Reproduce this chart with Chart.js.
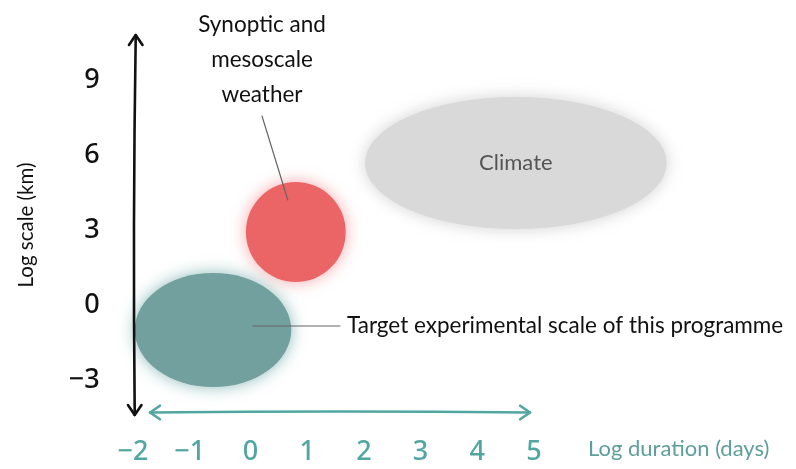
<!DOCTYPE html>
<html>
<head>
<meta charset="utf-8">
<script src="https://cdn.jsdelivr.net/npm/chart.js@4.4.1/dist/chart.umd.min.js"></script>
<style>
    html, body { margin: 0; padding: 0; background: #ffffff; }
    #wrap { width: 796px; height: 469px; }
</style>
</head>
<body>
<div id="wrap"><canvas id="scaleChart"></canvas></div>
<script>
// ---- data ----
const xTicks = [-2, -1, 0, 1, 2, 3, 4, 5];
const yTicks = [-3, 0, 3, 6, 9];

const regionNames = ['Target experimental scale of this programme', 'Synoptic and mesoscale weather', 'Climate'];
const regionX = [-0.66, 0.80, 4.68];     // log duration (days), centre
const regionY = [-1.0, 2.92, 5.68];      // log scale (km), centre
const regionSpanX = [1.38, 0.88, 2.66];  // half extent, log days
const regionSpanY = [2.28, 2.0, 2.64];   // half extent, log km

const xTitle = 'Log duration (days)';
const yTitle = 'Log scale (km)';

const regionFill = ['#72a09f', '#ec6566', '#d9d9d9'];
const regionGlow = ['rgba(95,160,158,0.7)', 'rgba(240,110,115,0.6)', 'rgba(180,180,180,0.6)'];

const teal = '#52a6a1';
const labelFont = 'Lato, "Noto Sans", sans-serif';

// ---- drawing of the sketch ----
function arrowHead(ctx, x, y, dx, dy, size){
    const ang = Math.atan2(dy, dx);
    ctx.beginPath();
    ctx.moveTo(x - size * Math.cos(ang - 0.6), y - size * Math.sin(ang - 0.6));
    ctx.lineTo(x, y);
    ctx.lineTo(x - size * Math.cos(ang + 0.6), y - size * Math.sin(ang + 0.6));
    ctx.stroke();
}

const sketchPlugin = {
    id: 'sketch',
    beforeDatasetsDraw(chart){
        const ctx = chart.ctx;
        const xs = chart.scales.x;
        const ys = chart.scales.y;

        ctx.save();
        // regions, drawn back to front
        [2, 1, 0].forEach(i => {
            const cx = xs.getPixelForValue(regionX[i]);
            const cy = ys.getPixelForValue(regionY[i]);
            const rx = Math.abs(xs.getPixelForValue(regionX[i] + regionSpanX[i]) - cx);
            const ry = Math.abs(ys.getPixelForValue(regionY[i] + regionSpanY[i]) - cy);
            ctx.shadowColor = regionGlow[i];
            ctx.shadowBlur = 16;
            ctx.fillStyle = regionFill[i];
            ctx.beginPath();
            ctx.ellipse(cx, cy, rx, ry, 0, 0, Math.PI * 2);
            ctx.fill();
        });
        ctx.shadowBlur = 0;
        ctx.shadowColor = 'transparent';

        // y axis (black, hand drawn arrow)
        const ax = xs.getPixelForValue(-2.04);
        const top = ys.getPixelForValue(10.8);
        const bot = ys.getPixelForValue(-4.4);
        ctx.strokeStyle = '#111';
        ctx.lineWidth = 2.6;
        ctx.lineCap = 'round';
        ctx.lineJoin = 'round';
        ctx.beginPath();
        ctx.moveTo(ax + 1, top);
        ctx.quadraticCurveTo(ax - 2, (top + bot) / 2, ax, bot);
        ctx.stroke();
        arrowHead(ctx, ax + 1, top, 0, -1, 12);
        arrowHead(ctx, ax, bot, 0, 1, 12);

        // x axis (teal arrow)
        const ay = ys.getPixelForValue(-4.3);
        const left = xs.getPixelForValue(-1.77);
        const right = xs.getPixelForValue(4.93);
        ctx.strokeStyle = teal;
        ctx.lineWidth = 2.6;
        ctx.beginPath();
        ctx.moveTo(left, ay);
        ctx.quadraticCurveTo((left + right) / 2, ay - 2, right, ay);
        ctx.stroke();
        arrowHead(ctx, left, ay, -1, 0, 12);
        arrowHead(ctx, right, ay, 1, 0, 12);

        // tick labels
        ctx.font = '500 27px "Noto Sans", sans-serif';
        ctx.fillStyle = '#111';
        ctx.textAlign = 'right';
        ctx.textBaseline = 'middle';
        yTicks.forEach(v => {
            ctx.fillText(v < 0 ? '\u2212' + Math.abs(v) : String(v), ax - 35, ys.getPixelForValue(v));
        });
        ctx.fillStyle = teal;
        ctx.textAlign = 'center';
        xTicks.forEach(v => {
            ctx.fillText(v < 0 ? '\u2212' + Math.abs(v) : String(v), xs.getPixelForValue(v) - (v < 0 ? 4 : 0), ys.getPixelForValue(-5.9));
        });

        // axis titles
        ctx.font = '22px ' + labelFont;
        ctx.fillStyle = '#5e9e9b';
        ctx.textAlign = 'left';
        ctx.fillText(xTitle, 588, ys.getPixelForValue(-5.75));

        ctx.save();
        ctx.translate(26, ys.getPixelForValue(3.2));
        ctx.rotate(-Math.PI / 2);
        ctx.font = '20.5px ' + labelFont;
        ctx.fillStyle = '#111';
        ctx.textAlign = 'center';
        ctx.fillText(yTitle, 0, 0);
        ctx.restore();

        // leader lines
        ctx.strokeStyle = '#666';
        ctx.lineWidth = 1.2;
        ctx.beginPath();
        ctx.moveTo(xs.getPixelForValue(regionX[0]) + 40, ys.getPixelForValue(regionY[0]) - 4);
        ctx.lineTo(340, ys.getPixelForValue(regionY[0]) - 4);
        ctx.stroke();
        ctx.beginPath();
        ctx.moveTo(262, 116);
        ctx.lineTo(xs.getPixelForValue(regionX[1]) - 8, ys.getPixelForValue(regionY[1]) - 32);
        ctx.stroke();

        // annotations
        ctx.font = '22.5px ' + labelFont;
        ctx.fillStyle = '#111';
        ctx.textAlign = 'left';
        ctx.fillText(regionNames[0], 347, ys.getPixelForValue(regionY[0]) - 4);

        ctx.textAlign = 'center';
        ['Synoptic and', 'mesoscale', 'weather'].forEach((line, k) => {
            ctx.fillText(line, 262, 25 + k * 35);
        });

        ctx.font = '22px ' + labelFont;
        ctx.fillStyle = '#555';
        ctx.fillText(regionNames[2], xs.getPixelForValue(regionX[2]), ys.getPixelForValue(regionY[2]));

        ctx.restore();
    }
};

new Chart(document.getElementById('scaleChart'), {
    type: 'scatter',
    data: {
        datasets: regionNames.map((name, i) => ({
            label: name,
            data: [{ x: regionX[i], y: regionY[i] }],
            pointRadius: 0,
            backgroundColor: regionFill[i]
        }))
    },
    options: {
        responsive: true,
        maintainAspectRatio: false,
        animation: false,
        events: [],
        layout: {
            padding: { left: 137, right: 262, top: 80, bottom: 89 }
        },
        plugins: {
            legend: { display: false },
            tooltip: { enabled: false }
        },
        scales: {
            x: { type: 'linear', min: -2, max: 5, display: false },
            y: { type: 'linear', min: -3, max: 9, display: false }
        }
    },
    plugins: [sketchPlugin]
});
</script>
</body>
</html>
